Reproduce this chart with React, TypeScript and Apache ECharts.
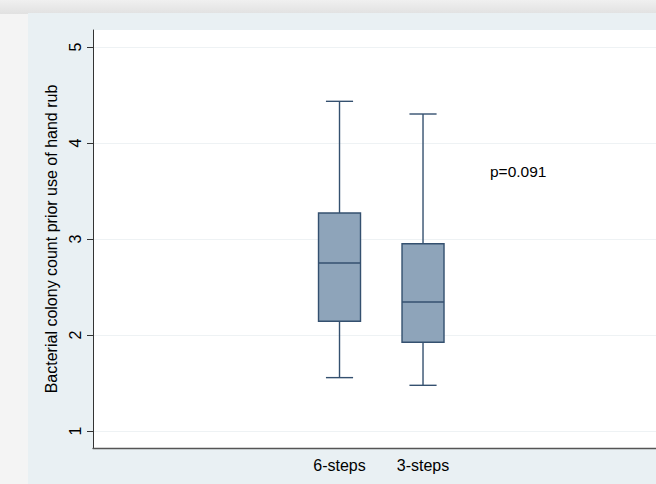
import React, { useEffect, useRef } from "react";
import * as echarts from "echarts";

const categories = ["6-steps", "3-steps"];
const lowerWhisker = [1.556, 1.476];
const q1 = [2.143, 1.924];
const median = [2.75, 2.344];
const q3 = [3.271, 2.951];
const upperWhisker = [4.434, 4.302];
const yTicks = [1, 2, 3, 4, 5];
const pValueText = "p=0.091";
const yTitle = "Bacterial colony count prior use of hand rub";

const FONT = "'Liberation Sans', Arial, Helvetica, sans-serif";

export default function App() {
  const ref = useRef<HTMLDivElement>(null);

  useEffect(() => {
    if (!ref.current) return;
    const chart = echarts.init(ref.current, undefined, { renderer: "svg" });
    const data = categories.map((_, i) => [
      i,
      lowerWhisker[i],
      q1[i],
      median[i],
      q3[i],
      upperWhisker[i],
    ]);
    const stroke = "#34506f";
    const fill = "#8ea4ba";
    chart.setOption({
      animation: false,
      backgroundColor: "#f4f4f4",
      textStyle: { fontFamily: FONT },
      graphic: [
        {
          type: "rect",
          z: -10,
          shape: { x: 0, y: 0, width: 656, height: 14 },
          style: {
            fill: new echarts.graphic.LinearGradient(0, 0, 0, 1, [
              { offset: 0, color: "#f0f0f0" },
              { offset: 1, color: "#e1e1e1" },
            ]),
          },
          silent: true,
        },
        {
          type: "rect",
          z: -9,
          shape: { x: 28, y: 13, width: 628, height: 471 },
          style: { fill: "#e9f0f3" },
          silent: true,
        },
        {
          type: "text",
          left: 490,
          top: 163,
          z: 10,
          style: {
            text: pValueText,
            fontSize: 15.5,
            fontFamily: FONT,
            fill: "#000",
          },
        },
      ],
      grid: {
        left: 93,
        top: 30,
        right: 0,
        bottom: 36,
        show: true,
        backgroundColor: "#ffffff",
        borderWidth: 0,
        z: 0,
      },
      xAxis: {
        type: "value",
        min: -2.952,
        max: 3.79,
        axisLine: { show: true, onZero: false, lineStyle: { color: "#555", width: 1.3 } },
        axisTick: { show: false },
        splitLine: { show: false },
        axisLabel: {
          customValues: [0, 1],
          formatter: (v: number) => categories[Math.round(v)] ?? "",
          fontSize: 16,
          color: "#000",
          margin: 9,
          fontFamily: FONT,
        },
      },
      yAxis: {
        type: "value",
        min: 0.823,
        max: 5.177,
        name: yTitle,
        nameLocation: "middle",
        nameGap: 31,
        nameTextStyle: { fontSize: 16, color: "#000", fontFamily: FONT },
        axisLine: { show: true, onZero: false, lineStyle: { color: "#333", width: 1 } },
        axisTick: {
          show: true,
          length: 6,
          customValues: yTicks,
          lineStyle: { color: "#333" },
        },
        axisLabel: {
          customValues: yTicks,
          rotate: 90,
          fontSize: 16,
          color: "#000",
          margin: 10,
          fontFamily: FONT,
          formatter: (v: number) => String(v),
        },
        splitLine: {
          show: true,
          lineStyle: { color: "#eef2f4", width: 1 },
        },
      },
      series: [
        {
          type: "custom",
          data,
          encode: { x: 0, y: [1, 2, 3, 4, 5] },
          renderItem: (params: any, api: any) => {
            const x = api.value(0);
            const pLo = api.coord([x, api.value(1)]);
            const pQ1 = api.coord([x, api.value(2)]);
            const pMed = api.coord([x, api.value(3)]);
            const pQ3 = api.coord([x, api.value(4)]);
            const pHi = api.coord([x, api.value(5)]);
            const unit = api.size([1, 0])[0];
            const boxW = unit * 0.503;
            const capW = unit * 0.325;
            const cx = pMed[0];
            const ls = { stroke, lineWidth: 1.4 };
            return {
              type: "group",
              children: [
                {
                  type: "line",
                  shape: { x1: cx, y1: pHi[1], x2: cx, y2: pQ3[1] },
                  style: ls,
                },
                {
                  type: "line",
                  shape: { x1: cx, y1: pQ1[1], x2: cx, y2: pLo[1] },
                  style: ls,
                },
                {
                  type: "line",
                  shape: { x1: cx - capW / 2, y1: pHi[1], x2: cx + capW / 2, y2: pHi[1] },
                  style: ls,
                },
                {
                  type: "line",
                  shape: { x1: cx - capW / 2, y1: pLo[1], x2: cx + capW / 2, y2: pLo[1] },
                  style: ls,
                },
                {
                  type: "rect",
                  shape: {
                    x: cx - boxW / 2,
                    y: pQ3[1],
                    width: boxW,
                    height: pQ1[1] - pQ3[1],
                  },
                  style: { fill, stroke, lineWidth: 1.4 },
                },
                {
                  type: "line",
                  shape: { x1: cx - boxW / 2, y1: pMed[1], x2: cx + boxW / 2, y2: pMed[1] },
                  style: ls,
                },
              ],
            };
          },
        },
      ],
    });
    return () => chart.dispose();
  }, []);

  return (
    <div
      ref={ref}
      style={{ position: "fixed", left: 0, top: 0, width: 656, height: 484 }}
    />
  );
}
